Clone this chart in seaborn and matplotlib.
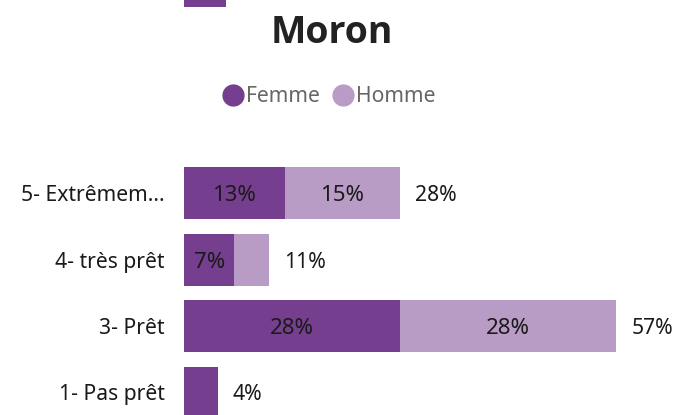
import matplotlib
matplotlib.use("Agg")
import matplotlib.pyplot as plt
from matplotlib.lines import Line2D
import seaborn as sns
import pandas as pd

sns.set_theme(style="white")
plt.rcParams['font.family'] = ['Noto Sans', 'DejaVu Sans']

# data
categories = ["5- Extrêmem...", "4- très prêt", "3- Prêt", "1- Pas prêt"]
femme = [13.2, 6.6, 28.3, 4.4]
homme = [15.1, 4.5, 28.3, 0.0]
above_bar = [5.5]  # bar of the chart above, clipped at the top edge

dark = "#763e8f"
light = "#b99cc6"
fs_cat = 15.2
fs_val = 16

df = pd.DataFrame({"cat": categories, "Femme": femme, "Homme": homme})
df["total"] = df["Femme"] + df["Homme"]

fig = plt.figure(figsize=(6.75, 4.15), dpi=100)
ax = fig.add_axes([184 / 675, 0, 1 - 184 / 675, 255 / 415])

sns.barplot(data=df, x="total", y="cat", color=light, width=0.78,
            saturation=1, linewidth=0, ax=ax)
sns.barplot(data=df, x="Femme", y="cat", color=dark, width=0.78,
            saturation=1, linewidth=0, ax=ax)

ax.set_xlim(0, 64.3)
ax.set_ylim(3.34, -0.5)
for s in ax.spines.values():
    s.set_visible(False)
ax.set_xticks([])
ax.set_xlabel("")
ax.set_ylabel("")
ax.tick_params(axis="y", length=0, pad=14, labelsize=fs_cat,
               labelcolor="#1a1a1a")

for i, r in df.iterrows():
    if r["Femme"] >= 5:
        ax.text(r["Femme"] / 2, i, f"{r['Femme']:.0f}%", ha="center",
                va="center_baseline", fontsize=fs_val, color="#1a1a1a")
    if r["Homme"] >= 5:
        ax.text(r["Femme"] + r["Homme"] / 2, i, f"{r['Homme']:.0f}%",
                ha="center", va="center_baseline", fontsize=fs_val,
                color="#1a1a1a")
    ax.text(r["total"] + 2.0, i, f"{r['total']:.0f}%", ha="left",
            va="center_baseline", fontsize=fs_cat, color="#1a1a1a")

# clipped bar from the chart above
ax_top = fig.add_axes([184 / 675, 1 - 7 / 415, 1 - 184 / 675, 60 / 415])
sns.barplot(x=above_bar, y=["x"], color=dark, width=1, saturation=1,
            linewidth=0, ax=ax_top)
ax_top.set_xlim(0, 64.3)
ax_top.set_ylim(0.5, -0.5)
ax_top.axis("off")

fig.text(332 / 675, 1 - 33 / 415, "Moron", ha="center", va="center",
         fontsize=27, fontweight="bold", family=["Open Sans", "DejaVu Sans"],
         color="#222222")

handles = [Line2D([], [], marker="o", linestyle="", markersize=15,
                  color=c) for c in (dark, light)]
leg = fig.legend(handles, ["Femme", "Homme"], loc="center",
                 bbox_to_anchor=(329 / 675, 1 - 97 / 415), ncol=2,
                 frameon=False, handletextpad=0.1, columnspacing=0.6,
                 fontsize=15.2, handlelength=1.0)
for t in leg.get_texts():
    t.set_color("#666666")

fig.savefig("out.png", dpi=100)
